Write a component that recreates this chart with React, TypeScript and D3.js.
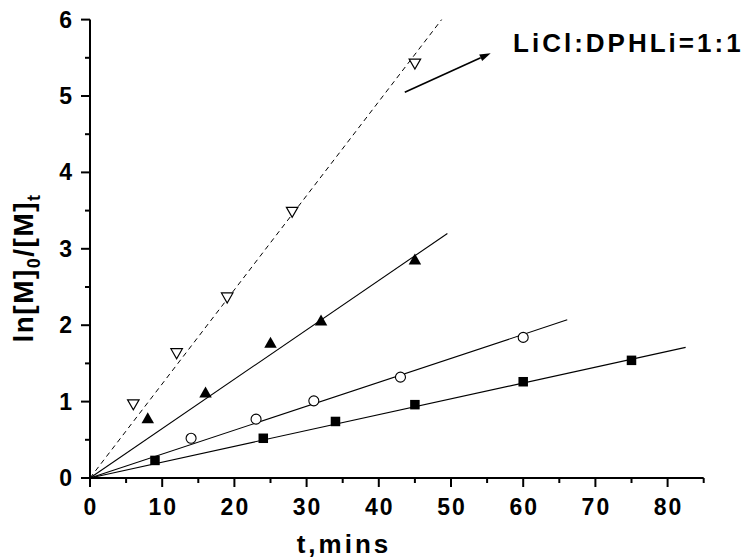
import React from "react";
import * as d3 from "d3";

const W = 744;
const H = 560;

// Data (t in minutes, ln[M]0/[M]t)
const squareT = [9, 24, 34, 45, 60, 75];
const squareV = [0.23, 0.52, 0.74, 0.96, 1.26, 1.54];
const circleT = [14, 23, 31, 43, 60];
const circleV = [0.52, 0.77, 1.01, 1.32, 1.84];
const triUpT = [8, 16, 25, 32, 45];
const triUpV = [0.77, 1.11, 1.76, 2.05, 2.85];
const triDownT = [6, 12, 19, 28, 45];
const triDownV = [0.97, 1.64, 2.37, 3.49, 5.43];

// Fit lines (from origin to end point)
const fitSquareEnd = [82.5, 1.71];
const fitCircleEnd = [66.1, 2.07];
const fitTriUpEnd = [49.5, 3.2];
const fitTriDownEnd = [48.7, 6.0];

const xTicks = [0, 10, 20, 30, 40, 50, 60, 70, 80];
const xMinor = [5, 15, 25, 35, 45, 55, 65, 75, 85];
const yTicks = [0, 1, 2, 3, 4, 5, 6];
const yMinor = [0.5, 1.5, 2.5, 3.5, 4.5, 5.5];

const legendLabel = "LiCl:DPHLi=1:1";
const arrowStart = [43.6, 5.05];
const arrowEnd = [55.5, 5.56];
const legendPos = [58.6, 5.58];

const FONT = "'Liberation Sans', Arial, Helvetica, sans-serif";

export default function App() {
  const x = d3.scaleLinear().domain([0, 85]).range([90, 703.7]);
  const y = d3.scaleLinear().domain([0, 6]).range([478, 19.6]);

  const fit = (end: number[]) =>
    d3.line<number[]>().x((d) => x(d[0])).y((d) => y(d[1]))([[0, 0], end]) || "";

  const ax0 = x(0);
  const ay0 = y(0);

  // arrow head
  const sx = x(arrowStart[0]);
  const sy = y(arrowStart[1]);
  const ex = x(arrowEnd[0]);
  const ey = y(arrowEnd[1]);
  const ang = Math.atan2(ey - sy, ex - sx);
  const hl = 11;
  const hw = 3.6;
  const bx = ex - hl * Math.cos(ang);
  const by = ey - hl * Math.sin(ang);
  const head = `M${ex},${ey} L${bx - hw * Math.sin(ang)},${by + hw * Math.cos(ang)} L${bx + hw * Math.sin(ang)},${by - hw * Math.cos(ang)} Z`;

  const sq = 9.5;
  const triUp = (cx: number, cy: number) => {
    const w = 12.5, h = 11;
    return `M${cx},${cy - h * 0.62} L${cx + w / 2},${cy + h * 0.38} L${cx - w / 2},${cy + h * 0.38} Z`;
  };
  const triDown = (cx: number, cy: number) => {
    const w = 11.5, h = 10;
    return `M${cx - w / 2},${cy - h * 0.4} L${cx + w / 2},${cy - h * 0.4} L${cx},${cy + h * 0.6} Z`;
  };

  return (
    <svg
      width={W}
      height={H}
      style={{ position: "absolute", left: 0, top: 0, background: "#fff" }}
      fontFamily={FONT}
    >
      <rect width={W} height={H} fill="#fff" />

      {/* fit lines */}
      <path d={fit(fitSquareEnd)} stroke="#000" strokeWidth={1.1} fill="none" />
      <path d={fit(fitCircleEnd)} stroke="#000" strokeWidth={1.1} fill="none" />
      <path d={fit(fitTriUpEnd)} stroke="#000" strokeWidth={1.1} fill="none" />
      <path d={fit(fitTriDownEnd)} stroke="#000" strokeWidth={1} strokeDasharray="5,4" fill="none" />

      {/* markers */}
      {squareT.map((t, i) => (
        <rect key={"s" + i} x={x(t) - sq / 2} y={y(squareV[i]) - sq / 2} width={sq} height={sq} fill="#000" />
      ))}
      {circleT.map((t, i) => (
        <circle key={"c" + i} cx={x(t)} cy={y(circleV[i])} r={5} fill="#fff" stroke="#000" strokeWidth={1.1} />
      ))}
      {triUpT.map((t, i) => (
        <path key={"tu" + i} d={triUp(x(t), y(triUpV[i]))} fill="#000" />
      ))}
      {triDownT.map((t, i) => (
        <path key={"td" + i} d={triDown(x(t), y(triDownV[i]))} fill="#fff" stroke="#000" strokeWidth={1.2} />
      ))}

      {/* axes */}
      <line x1={ax0} y1={ay0} x2={x(85)} y2={ay0} stroke="#000" strokeWidth={2} />
      <line x1={ax0} y1={ay0 + 1} x2={ax0} y2={y(6)} stroke="#000" strokeWidth={2} />
      {xTicks.map((t) => (
        <g key={"xt" + t}>
          <line x1={x(t)} x2={x(t)} y1={ay0} y2={ay0 + 9} stroke="#000" strokeWidth={2} />
          <text x={x(t) + 1} y={515} textAnchor="middle" fontSize={23} fontWeight="bold" letterSpacing={2}>
            {t}
          </text>
        </g>
      ))}
      {xMinor.map((t) => (
        <line key={"xm" + t} x1={x(t)} x2={x(t)} y1={ay0} y2={ay0 + 5} stroke="#000" strokeWidth={2} />
      ))}
      {yTicks.map((v) => (
        <g key={"yt" + v}>
          <line x1={ax0 - 9} x2={ax0} y1={y(v)} y2={y(v)} stroke="#000" strokeWidth={2} />
          <text x={72} y={y(v) + 8} textAnchor="end" fontSize={23} fontWeight="bold">
            {v}
          </text>
        </g>
      ))}
      {yMinor.map((v) => (
        <line key={"ym" + v} x1={ax0 - 5} x2={ax0} y1={y(v)} y2={y(v)} stroke="#000" strokeWidth={2} />
      ))}

      {/* axis titles */}
      <text x={344} y={553} textAnchor="middle" fontSize={26} fontWeight="bold" letterSpacing={3}>
        t,mins
      </text>
      <g transform={`translate(33,268) rotate(-90)`}>
        <text x={0} y={0} textAnchor="middle" fontSize={28} fontWeight="bold" letterSpacing={1.5}>
          ln[M]
          <tspan fontSize={18} dy={7}>0</tspan>
          <tspan dy={-7}>/[M]</tspan>
          <tspan fontSize={18} dy={7}>t</tspan>
        </text>
      </g>

      {/* annotation */}
      <line x1={sx} y1={sy} x2={bx} y2={by} stroke="#000" strokeWidth={1.6} />
      <path d={head} fill="#000" />
      <text x={x(legendPos[0])} y={y(legendPos[1])} fontSize={26} fontWeight="bold" letterSpacing={3}>
        {legendLabel}
      </text>
    </svg>
  );
}
